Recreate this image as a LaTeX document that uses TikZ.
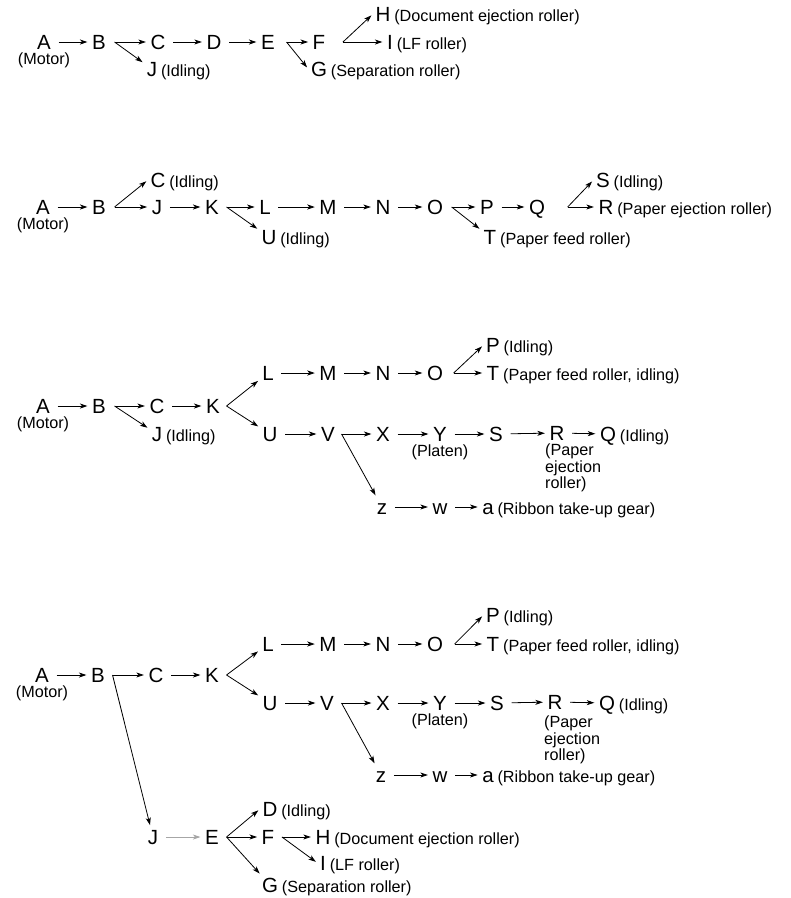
\documentclass[tikz,border=0pt]{standalone}
\usepackage{fontspec}
\setmainfont{Liberation Sans}
\usetikzlibrary{arrows.meta}

\tikzset{%
  every gear/.style={
    inner sep=2.5pt,
    text height=14.5pt,
    text depth=0pt,
    font=\fontsize{20.5}{22}\selectfont
  },
  gear note/.style={
    inner sep=1pt,
    text height=14.5pt,
    text depth=0pt,
    font=\fontsize{16.2}{17}\selectfont
  },
  gear caption/.style={
    gear note,
    text height=11.5pt
  },
  gear remark/.style={
    inner sep=1pt,
    align=left,
    anchor=north west,
    font=\fontsize{16.2}{16.3}\selectfont
  },
  drive/.style={
    -{Stealth[length=7.5pt,width=5pt,inset=2pt]},
    line width=0.8pt,
    shorten <=5pt,
    shorten >=2pt
  },
  drive fork/.style={
    drive,
    shorten <=0pt
  },
}

\begin{document}
\begin{tikzpicture}[x=1pt,y=-1pt]
  \useasboundingbox (0,0) rectangle (791,898);
  % first train
  \node [every gear, label={[gear caption]below:(Motor)}] (A-1) at (44,42) {A};
  \node [every gear] (B-1) at (99,42) {B};
  \node [every gear] (C-1) at (158,42) {C};
  \node [every gear, label={[gear note]right:(Idling)}] (J-1) at (152,69) {J};
  \node [every gear] (D-1) at (214,42) {D};
  \node [every gear] (E-1) at (268,42) {E};
  \node [every gear] (F-1) at (319,42) {F};
  \node [every gear, label={[gear note]right:(Separation roller)}] (G-1) at (319,69) {G};
  \node [every gear, label={[gear note]right:(Document ejection roller)}] (H-1) at (383,14) {H};
  \node [every gear, label={[gear note]right:(LF roller)}] (I-1) at (390,42) {I};
\draw [drive] (A-1) -- (B-1);
\draw [drive fork] ([xshift=6pt]B-1.east) -- (C-1);
\draw [drive fork] ([xshift=6pt]B-1.east) -- (J-1);
\draw [drive] (C-1) -- (D-1);
\draw [drive] (D-1) -- (E-1);
\draw [drive fork] ([xshift=9pt]E-1.east) -- (F-1);
\draw [drive fork] ([xshift=9pt]E-1.east) -- (G-1.west);
\draw [drive fork] ([xshift=15pt]F-1.east) -- (H-1.west);
\draw [drive fork] ([xshift=15pt]F-1.east) -- (I-1);

  % second train
  \node [every gear, label={[gear caption]below:(Motor)}] (A-2) at (43,207) {A};
  \node [every gear] (B-2) at (99,207) {B};
  \node [every gear, label={[gear note]right:(Idling)}] (C-2) at (158,180) {C};
  \node [every gear] (J-2) at (157,207) {J};
  \node [every gear] (K-2) at (212,207) {K};
  \node [every gear] (L-2) at (265,207) {L};
  \node [every gear, label={[gear note]right:(Idling)}] (U-2) at (269,237) {U};
  \node [every gear] (M-2) at (328,207) {M};
  \node [every gear] (N-2) at (383,207) {N};
  \node [every gear] (O-2) at (435,207) {O};
  \node [every gear] (P-2) at (487,207) {P};
  \node [every gear, label={[gear note]right:(Paper feed roller)}] (T-2) at (490,237) {T};
  \node [every gear] (Q-2) at (537,207) {Q};
  \node [every gear, label={[gear note]right:(Idling)}] (S-2) at (603,180) {S};
  \node [every gear, label={[gear note]right:(Paper ejection roller)}] (R-2) at (606,207) {R};
\draw [drive] (A-2) -- (B-2);
\draw [drive fork] ([xshift=6pt]B-2.east) -- (C-2.west);
\draw [drive fork] ([xshift=6pt]B-2.east) -- (J-2);
\draw [drive] (J-2) -- (K-2);
\draw [drive fork] ([xshift=5pt]K-2.east) -- (L-2);
\draw [drive fork] ([xshift=5pt]K-2.east) -- (U-2);
\draw [drive] (L-2) -- (M-2);
\draw [drive] (M-2) -- (N-2);
\draw [drive] (N-2) -- (O-2);
\draw [drive fork] ([xshift=6pt]O-2.east) -- (P-2);
\draw [drive fork] ([xshift=6pt]O-2.east) -- (T-2);
\draw [drive] (P-2) -- (Q-2);
\draw [drive fork] ([xshift=20pt]Q-2.east) -- (S-2.west);
\draw [drive fork] ([xshift=20pt]Q-2.east) -- (R-2);

  % third train
  \node [every gear, label={[gear caption]below:(Motor)}] (A-3) at (43,406) {A};
  \node [every gear] (B-3) at (99,406) {B};
  \node [every gear] (C-3) at (157,406) {C};
  \node [every gear, label={[gear note]right:(Idling)}] (J-3) at (157,434) {J};
  \node [every gear] (K-3) at (213,406) {K};
  \node [every gear] (L-3) at (268,373) {L};
  \node [every gear] (U-3) at (270,434) {U};
  \node [every gear] (M-3) at (328,373) {M};
  \node [every gear] (N-3) at (383,373) {N};
  \node [every gear] (O-3) at (435,373) {O};
  \node [every gear, label={[gear note]right:(Idling)}] (P-3) at (493,345) {P};
  \node [every gear, label={[gear note]right:(Paper feed roller, idling)}] (T-3) at (493,373) {T};
  \node [every gear] (V-3) at (328,434) {V};
  \node [every gear] (X-3) at (383,434) {X};
  \node [every gear, label={[gear caption]below:(Platen)}] (Y-3) at (440,434) {Y};
  \node [every gear] (S-3) at (496,434) {S};
  \node [every gear] (R-3) at (557,433) {R};
  \node [gear remark] (Rnote-3) at (544,443) {(Paper\\ejection\\roller)};
  \node [every gear, label={[gear note]right:(Idling)}] (Q-3) at (608,434) {Q};
  \node [every gear] (z-3) at (382,507) {z};
  \node [every gear] (w-3) at (440,507) {w};
  \node [every gear, label={[gear note]right:(Ribbon take-up gear)}] (a-3) at (488,507) {a};
\draw [drive] (A-3) -- (B-3);
\draw [drive fork] ([xshift=6pt]B-3.east) -- (C-3);
\draw [drive fork] ([xshift=6pt]B-3.east) -- (J-3);
\draw [drive] (C-3) -- (K-3);
\draw [drive fork] ([xshift=4pt]K-3.east) -- (L-3);
\draw [drive fork] ([xshift=4pt]K-3.east) -- (U-3);
\draw [drive] (L-3) -- (M-3);
\draw [drive] (M-3) -- (N-3);
\draw [drive] (N-3) -- (O-3);
\draw [drive fork] ([xshift=8pt]O-3.east) -- (P-3.west);
\draw [drive fork] ([xshift=8pt]O-3.east) -- (T-3);
\draw [drive] (U-3) -- (V-3);
\draw [drive fork] ([xshift=4pt]V-3.east) -- (X-3);
\draw [drive fork] ([xshift=4pt]V-3.east) -- (z-3);
\draw [drive] (X-3) -- (Y-3);
\draw [drive] (Y-3) -- (S-3);
\draw [drive] (S-3) -- (R-3);
\draw [drive] (R-3) -- (Q-3);
\draw [drive] (z-3) -- (w-3);
\draw [drive] (w-3) -- (a-3);

  % fourth train
  \node [every gear, label={[gear caption]below:(Motor)}] (A-4) at (42,675) {A};
  \node [every gear] (B-4) at (98,675) {B};
  \node [every gear] (C-4) at (156,675) {C};
  \node [every gear] (K-4) at (212,675) {K};
  \node [every gear] (L-4) at (268,644) {L};
  \node [every gear] (U-4) at (270,703) {U};
  \node [every gear] (M-4) at (328,644) {M};
  \node [every gear] (N-4) at (383,644) {N};
  \node [every gear] (O-4) at (435,644) {O};
  \node [every gear, label={[gear note]right:(Idling)}] (P-4) at (493,615) {P};
  \node [every gear, label={[gear note]right:(Paper feed roller, idling)}] (T-4) at (493,644) {T};
  \node [every gear] (V-4) at (327,703) {V};
  \node [every gear] (X-4) at (383,703) {X};
  \node [every gear, label={[gear caption]below:(Platen)}] (Y-4) at (440,703) {Y};
  \node [every gear] (S-4) at (497,703) {S};
  \node [every gear] (R-4) at (555,702) {R};
  \node [gear remark] (Rnote-4) at (543,715) {(Paper\\ejection\\roller)};
  \node [every gear, label={[gear note]right:(Idling)}] (Q-4) at (607,703) {Q};
  \node [every gear] (z-4) at (381,775) {z};
  \node [every gear] (w-4) at (440,775) {w};
  \node [every gear, label={[gear note]right:(Ribbon take-up gear)}] (a-4) at (488,775) {a};
  \node [every gear] (J-4) at (153,837) {J};
  \node [every gear] (E-4) at (212,837) {E};
  \node [every gear, label={[gear note]right:(Idling)}] (D-4) at (270,809) {D};
  \node [every gear] (F-4) at (268,837) {F};
  \node [every gear, label={[gear note]right:(Separation roller)}] (G-4) at (270,885) {G};
  \node [every gear, label={[gear note]right:(Document ejection roller)}] (H-4) at (323,837) {H};
  \node [every gear, label={[gear note]right:(LF roller)}] (I-4) at (323,863) {I};
\draw [drive] (A-4) -- (B-4);
\draw [drive fork] ([xshift=5pt]B-4.east) -- (C-4);
\draw [drive fork] ([xshift=5pt]B-4.east) -- (J-4);
\draw [drive] (C-4) -- (K-4);
\draw [drive fork] ([xshift=5pt]K-4.east) -- (L-4);
\draw [drive fork] ([xshift=5pt]K-4.east) -- (U-4);
\draw [drive] (L-4) -- (M-4);
\draw [drive] (M-4) -- (N-4);
\draw [drive] (N-4) -- (O-4);
\draw [drive fork] ([xshift=9pt]O-4.east) -- (P-4.west);
\draw [drive fork] ([xshift=9pt]O-4.east) -- (T-4);
\draw [drive] (U-4) -- (V-4);
\draw [drive fork] ([xshift=5pt]V-4.east) -- (X-4);
\draw [drive fork] ([xshift=5pt]V-4.east) -- (z-4);
\draw [drive] (X-4) -- (Y-4);
\draw [drive] (Y-4) -- (S-4);
\draw [drive] (S-4) -- (R-4);
\draw [drive] (R-4) -- (Q-4);
\draw [drive] (z-4) -- (w-4);
\draw [drive] (w-4) -- (a-4);
\draw [drive, draw=gray!70] (J-4) -- (E-4);
\draw [drive fork] ([xshift=5pt]E-4.east) -- (D-4.west);
\draw [drive fork] ([xshift=5pt]E-4.east) -- (F-4);
\draw [drive fork] ([xshift=5pt]E-4.east) -- (G-4);
\draw [drive fork] ([xshift=5pt]F-4.east) -- (H-4);
\draw [drive fork] ([xshift=5pt]F-4.east) -- (I-4.west);
\end{tikzpicture}
\end{document}
